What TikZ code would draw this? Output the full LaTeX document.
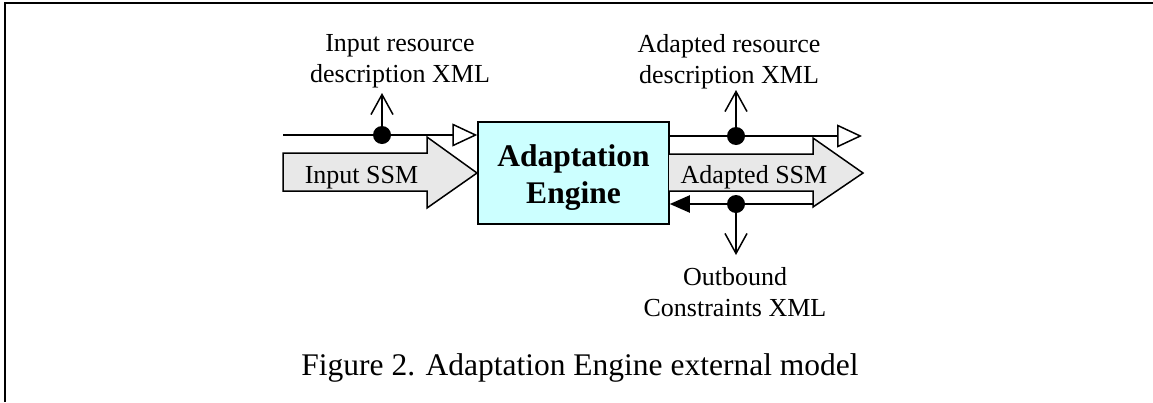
\documentclass[tikz,border=0pt]{standalone}
\usepackage{fontspec}
\setmainfont{Liberation Serif}
\usetikzlibrary{arrows.meta}
\begin{document}
\begin{tikzpicture}[x=1pt,y=-1pt,
  lbl/.style={inner sep=0pt, align=center, font=\fontsize{26}{31}\selectfont},
  dot/.style={circle, fill=black, inner sep=0pt, minimum size=18pt},
  flow/.style={line width=2pt},
  vline/.style={line width=1.5pt, -{Straight Barb[length=20pt,width=22pt,line width=1.5pt]}},
  openhead/.style={flow, -{Triangle[open,length=25pt,width=23pt,line width=1.5pt]}},
  fillhead/.style={flow, -{Triangle[length=20pt,width=17pt]}},
  ssm/.style={draw, line width=1.5pt, fill={rgb,255:red,232;green,232;blue,232}, line join=miter}]
\useasboundingbox (0,0) rectangle (1153,402);
% frame
\draw[line width=2pt] (5,402) -- (5,2.8);
\draw[line width=1.5pt] (4,2.8) -- (1153,2.8);
% engine box
\node[draw, line width=1.5pt, fill={rgb,255:red,204;green,255;blue,255}, minimum width=191pt, minimum height=102pt, inner sep=0pt] (engine) at (573.5,173) {};
\node[inner sep=0pt, align=center, font=\fontsize{31.5}{37}\selectfont\bfseries] (enginelbl) at (573.5,177.9) {Adaptation\\Engine};
% SSM arrows
\draw[ssm] (283,153) -- (427,153) -- (427,137) -- (477,173) -- (427,208) -- (427,191) -- (283,191) -- cycle;
\draw[ssm] (669,154) -- (813,154) -- (813,138) -- (863,173) -- (813,207) -- (813,191) -- (669,191);
\node[lbl, anchor=base] (inssm) at (361.5,183) {Input SSM};
\node[lbl, anchor=base] (adssm) at (754,183) {Adapted SSM};
% input resource description
\coordinate (inStart) at (283,135);
\draw[openhead] (inStart) -- (inStart -| engine.west);
\node[dot] (dotIn) at (382,135) {};
\coordinate (inTip) at (382,93);
\draw[vline] (dotIn.center) -- (inTip);
\node[lbl] (inlbl) at (400,61.3) {Input resource\\description XML};
% adapted resource description
\coordinate (outEnd) at (862,136);
\draw[openhead] (engine.east |- outEnd) -- (outEnd);
\node[dot] (dotOut) at (736,136) {};
\coordinate (outTip) at (736,90);
\draw[vline] (dotOut.center) -- (outTip);
\node[lbl] (outlbl) at (729,61.3) {Adapted resource\\description XML};
% outbound constraints
\coordinate (backStart) at (813,204);
\draw[fillhead] (backStart) -- (backStart -| engine.east);
\node[dot] (dotBack) at (736,204) {};
\coordinate (backTip) at (736,255);
\draw[vline] (dotBack.center) -- (backTip);
\node[lbl] (conlbl) at (735,292.1) {Outbound\\Constraints XML};
% caption
\node[inner sep=0pt, anchor=base, font=\fontsize{31.5}{37}\selectfont] (caption) at (580,375) {Figure 2. Adaptation Engine external model};
\end{tikzpicture}
\end{document}
